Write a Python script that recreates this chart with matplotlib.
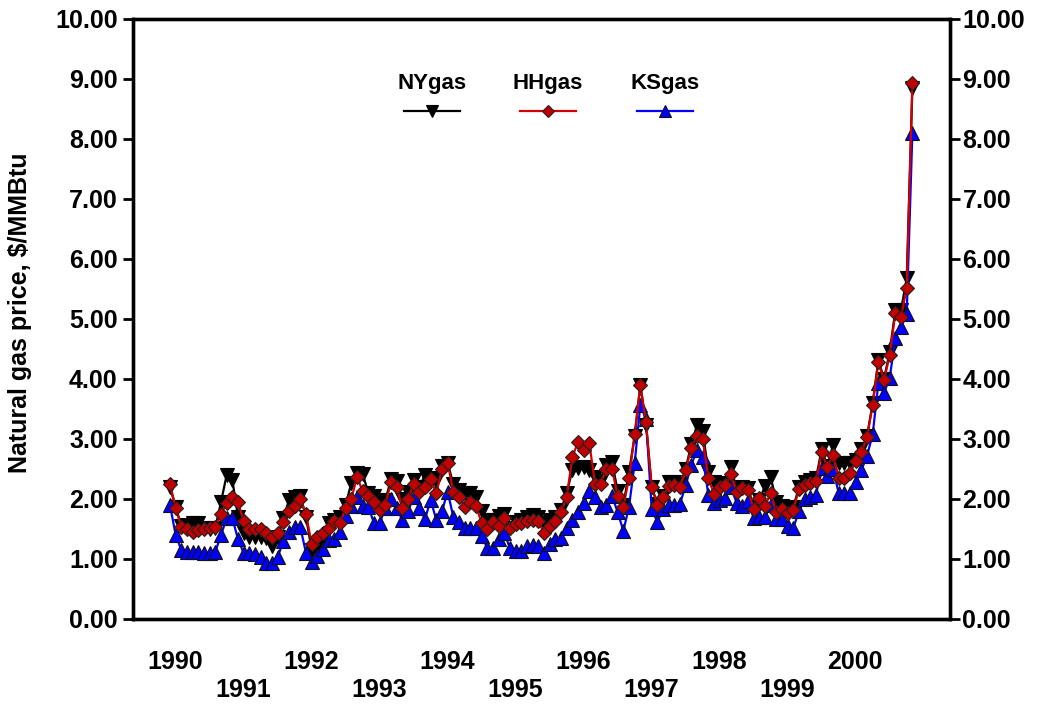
import numpy as np
import matplotlib.pyplot as plt
from matplotlib.lines import Line2D
from matplotlib.ticker import FormatStrFormatter

plt.rcParams['font.family'] = ['Liberation Sans', 'DejaVu Sans']
plt.rcParams['font.weight'] = 'bold'

# monthly prices, Jan 1990 .. Dec 2000 ($/MMBtu)
years = list(range(1990, 2001))
series_names = ['NYgas', 'HHgas', 'KSgas']

ny_gas = [2.20, 1.87, 1.55, 1.57, 1.60, 1.60, 1.52, 1.50, 1.52, 1.95, 2.40, 2.32,
          1.70, 1.43, 1.37, 1.37, 1.37, 1.35, 1.22, 1.37, 1.68, 1.98, 2.03, 2.05,
          1.70, 1.15, 1.15, 1.35, 1.60, 1.65, 1.70, 1.90, 2.27, 2.43, 2.42, 2.10,
          2.05, 1.98, 1.98, 2.33, 2.30, 2.00, 2.12, 2.32, 2.20, 2.40, 2.35, 2.30,
          2.55, 2.60, 2.25, 2.15, 2.10, 2.10, 2.03, 1.80, 1.65, 1.65, 1.72, 1.75,
          1.52, 1.62, 1.65, 1.70, 1.73, 1.70, 1.60, 1.65, 1.70, 1.82, 2.10, 2.48,
          2.52, 2.53, 2.48, 2.37, 2.30, 2.57, 2.62, 2.13, 1.90, 2.45, 3.05, 3.90,
          3.23, 2.20, 1.92, 2.05, 2.28, 2.28, 2.25, 2.50, 2.92, 3.23, 3.13, 2.45,
          2.28, 2.27, 2.25, 2.53, 2.15, 2.20, 2.18, 1.87, 1.98, 2.22, 2.37, 1.95,
          1.88, 1.82, 1.87, 2.20, 2.28, 2.32, 2.35, 2.83, 2.55, 2.90, 2.60, 2.60,
          2.60, 2.65, 2.83, 3.05, 3.60, 4.32, 4.00, 4.45, 5.15, 5.15, 5.68, 8.85]

hh_gas = [2.25, 1.85, 1.53, 1.50, 1.45, 1.48, 1.50, 1.52, 1.53, 1.75, 1.93, 2.03,
          1.95, 1.63, 1.50, 1.50, 1.50, 1.43, 1.37, 1.43, 1.62, 1.80, 1.88, 2.00,
          1.75, 1.25, 1.37, 1.43, 1.52, 1.63, 1.60, 1.85, 2.00, 2.37, 2.13, 2.05,
          1.95, 1.82, 1.90, 2.28, 2.20, 1.85, 2.00, 2.25, 2.12, 2.20, 2.33, 2.10,
          2.50, 2.60, 2.12, 2.03, 1.87, 1.95, 1.88, 1.60, 1.50, 1.62, 1.55, 1.68,
          1.52, 1.58, 1.60, 1.63, 1.65, 1.63, 1.43, 1.55, 1.63, 1.78, 2.03, 2.70,
          2.95, 2.82, 2.93, 2.25, 2.25, 2.50, 2.50, 2.05, 1.87, 2.35, 3.08, 3.90,
          3.28, 2.20, 1.90, 2.03, 2.22, 2.23, 2.20, 2.48, 2.85, 3.05, 3.00, 2.35,
          2.08, 2.20, 2.23, 2.42, 2.12, 2.18, 2.15, 1.83, 2.02, 1.88, 2.10, 1.78,
          1.83, 1.77, 1.82, 2.17, 2.23, 2.27, 2.30, 2.78, 2.53, 2.73, 2.35, 2.35,
          2.43, 2.63, 2.78, 3.03, 3.57, 4.28, 3.98, 4.40, 5.10, 5.03, 5.52, 8.93]

ks_gas = [1.90, 1.40, 1.15, 1.12, 1.12, 1.12, 1.10, 1.10, 1.12, 1.40, 1.68, 1.68,
          1.33, 1.10, 1.10, 1.08, 1.03, 0.93, 0.93, 1.03, 1.30, 1.45, 1.53, 1.53,
          1.10, 0.95, 1.05, 1.17, 1.32, 1.33, 1.45, 1.72, 1.88, 2.03, 1.88, 1.87,
          1.60, 1.60, 1.85, 2.00, 1.85, 1.65, 1.80, 2.03, 1.85, 1.67, 1.98, 1.65,
          1.80, 2.12, 1.70, 1.62, 1.52, 1.52, 1.52, 1.38, 1.18, 1.18, 1.33, 1.43,
          1.18, 1.13, 1.13, 1.22, 1.23, 1.22, 1.10, 1.25, 1.33, 1.35, 1.52, 1.65,
          1.78, 1.93, 2.13, 2.03, 1.87, 1.90, 2.05, 1.78, 1.47, 1.87, 2.60, 3.57,
          3.33, 1.83, 1.62, 1.83, 1.90, 1.90, 1.92, 2.23, 2.57, 2.82, 2.70, 2.07,
          1.93, 1.98, 2.02, 2.20, 1.93, 1.88, 1.97, 1.68, 1.70, 1.70, 1.90, 1.67,
          1.67, 1.55, 1.52, 1.80, 2.00, 2.03, 2.07, 2.52, 2.38, 2.50, 2.10, 2.10,
          2.10, 2.28, 2.48, 2.72, 3.08, 3.93, 3.77, 4.02, 4.68, 4.87, 5.08, 8.10]

months = 1990 + np.arange(len(hh_gas)) / 12.0

fig = plt.figure(figsize=(10.44, 7.05), dpi=100)
ax = fig.add_axes([133 / 1044, 86 / 705, 817 / 1044, 600 / 705])

styles = {
    'NYgas': dict(color='black', marker='v', ms=9.5, mfc='black', mec='black'),
    'HHgas': dict(color='#d00000', marker='D', ms=7, mfc='#c00000', mec='#222222'),
    'KSgas': dict(color='#0000ff', marker='^', ms=9.5, mfc='#0000ff', mec='#111111'),
}

ax.plot(months, ny_gas, lw=1.6, mew=0.8, **styles['NYgas'])
ax.plot(months, ks_gas, lw=1.6, mew=0.8, **styles['KSgas'])
ax.plot(months, hh_gas, lw=1.6, mew=0.8, **styles['HHgas'])

ax.set_xlim(1989.456, 2001.47)
ax.set_ylim(0, 10)
ax.set_yticks(np.arange(0, 11, 1))
ax.yaxis.set_major_formatter(FormatStrFormatter('%.2f'))
ax.set_xticks([y + 0.075 for y in years])
ax.set_xticklabels([str(y) if (y - years[0]) % 2 == 0 else '\n' + str(y) for y in years],
                   linespacing=1.25)

ax.tick_params(axis='x', length=0, labelsize=18, pad=22)
ax.tick_params(axis='y', direction='out', length=7, width=2, labelsize=18, pad=4)

ax2 = ax.twinx()
ax2.set_ylim(ax.get_ylim())
ax2.set_yticks(np.arange(0, 11, 1))
ax2.yaxis.set_major_formatter(FormatStrFormatter('%.2f'))
ax2.tick_params(axis='y', direction='out', length=7, width=2, labelsize=18, pad=2)

for a in (ax, ax2):
    for sp in a.spines.values():
        sp.set_linewidth(2.4)

ax.set_ylabel('Natural gas price, $/MMBtu', fontsize=18, fontweight='bold')
ax.yaxis.set_label_coords(-0.124, 0.51)

# legend drawn by hand: names above short line samples
legend_x = [0.366, 0.508, 0.651]
for name, lx in zip(series_names, legend_x):
    ax.text(lx, 0.893, name, transform=ax.transAxes, ha='center', va='center',
            fontsize=16, fontweight='bold')
    st = styles[name]
    ax.add_line(Line2D([lx - 0.034, lx + 0.034], [0.847, 0.847], transform=ax.transAxes,
                       color=st['color'], lw=1.6))
    ax.add_line(Line2D([lx], [0.847], transform=ax.transAxes, linestyle='none',
                       marker=st['marker'], ms=st['ms'] * 0.9, mfc=st['mfc'],
                       mec=st['mec'], mew=0.8))

fig.savefig('out.png', dpi=100)
